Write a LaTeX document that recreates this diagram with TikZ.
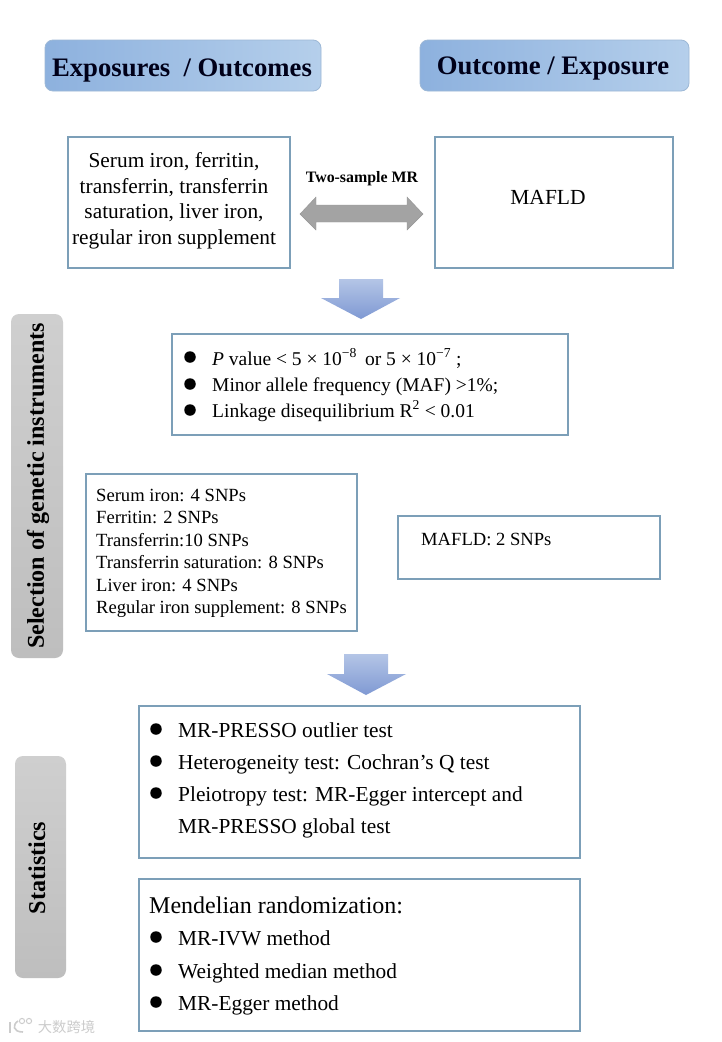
\documentclass[tikz,border=0pt]{standalone}
\usepackage{fontspec}
\setmainfont{Liberation Serif}
\newfontfamily\cjk{Noto Sans CJK SC}
\usetikzlibrary{shapes.arrows}
\definecolor{boxline}{HTML}{7C9FB8}
\definecolor{hdrL}{HTML}{8DB1DE}
\definecolor{hdrR}{HTML}{B5CFEB}
\definecolor{hdrLine}{HTML}{9DB8D6}
\definecolor{arrT}{HTML}{B4C5E6}
\definecolor{arrB}{HTML}{7F99D3}
\definecolor{grayT}{HTML}{CFCFCF}
\definecolor{grayB}{HTML}{BEBEBE}
\tikzset{
  x=1pt,y=-1pt,
  hdr/.style={rounded corners=8pt,left color=hdrL,right color=hdrR,draw=hdrLine,line width=.8pt},
  hdrtxt/.style={font=\fontsize{26.7}{30}\selectfont\bfseries,text=black!90!blue,inner sep=0pt},
  bx/.style={draw=boxline,line width=1.6pt,fill=white},
  side/.style={rounded corners=8pt,top color=grayT,bottom color=grayB,draw=none},
  sidetxt/.style={font=\fontsize{24.1}{26}\selectfont\bfseries,rotate=90,inner sep=0pt},
  txt/.style={inner sep=0pt,anchor=base west},
  crit/.style={font=\fontsize{19.5}{25.5}\selectfont},
  big/.style={font=\fontsize{21.35}{25.5}\selectfont},
  mid/.style={font=\fontsize{18.6}{22}\selectfont},
  dotn/.style={circle,fill=black,inner sep=0pt,minimum size=11.5pt},
  downarr/.style={top color=arrT,bottom color=arrB,draw=none},
  wm/.style={draw=gray!40,line width=1.6pt,fill=none},
}
\begin{document}
\begin{tikzpicture}
\useasboundingbox (0,0) rectangle (721,1042);
\fill[white] (0,0) rectangle (721,1042);
% headers
\draw[hdr] (45,40) rectangle (321,91);
\node[hdrtxt] (h1) at (182,70) {Exposures\ \ / Outcomes};
\draw[hdr] (420,40) rectangle (689,91);
\node[hdrtxt] (h2) at (553,68) {Outcome / Exposure};
% top boxes
\draw[bx] (68,137) rectangle (290,268);
\node[big,align=center,inner sep=0pt] (t1) at (174,201) {Serum iron, ferritin,\\transferrin, transferrin\\saturation, liver iron,\\regular iron supplement};
\draw[bx] (435,137) rectangle (673,268);
\node[font=\fontsize{21.5}{24}\selectfont,inner sep=0pt] (t2) at (548,197) {MAFLD};
\node[font=\fontsize{15.9}{18}\selectfont\bfseries,inner sep=0pt] (t3) at (362,179) {Two-sample MR};
\fill[gray!72,draw=gray!82] (300,214) -- (316,197) -- (316,205) -- (407,205) -- (407,197) -- (423,214) -- (407,230) -- (407,222) -- (316,222) -- (316,230) -- cycle;
% arrow 1
\path[downarr] (339,279) -- (383,279) -- (383,298) -- (400,298) -- (361,319) -- (321,298) -- (339,298) -- cycle;
% criteria
\draw[bx] (172,334) rectangle (568,435);
\node[dotn] (d1) at (190,357) {};
\node[dotn] (d2) at (190,384) {};
\node[dotn] (d3) at (190,410) {};
\node[txt,crit] (c1) at (212,365) {\textit{P} value < 5 × 10\textsuperscript{−8}\, or 5 × 10\textsuperscript{−7} ;};
\node[txt,crit] (c2) at (212,391) {Minor allele frequency (MAF) >1\%;};
\node[txt,crit] (c3) at (212,417) {Linkage disequilibrium R\textsuperscript{2} < 0.01};
% SNPs
\draw[bx] (86,474) rectangle (357,631);
\node[txt,mid] (s1) at (96,501) {Serum iron: 4 SNPs};
\node[txt,mid] (s2) at (96,523) {Ferritin: 2 SNPs};
\node[txt,mid] (s3) at (96,546) {Transferrin:10 SNPs};
\node[txt,mid] (s4) at (96,568) {Transferrin saturation: 8 SNPs};
\node[txt,mid] (s5) at (96,591) {Liver iron: 4 SNPs};
\node[txt,mid] (s6) at (96,613) {Regular iron supplement: 8 SNPs};
\draw[bx] (398,516) rectangle (660,579);
\node[txt,mid] (s7) at (421,545) {MAFLD: 2 SNPs};
% arrow 2
\path[downarr] (344,654) -- (388,654) -- (388,674) -- (406,674) -- (366,695) -- (327,674) -- (344,674) -- cycle;
% statistics
\draw[bx] (139,706) rectangle (580,858);
\node[dotn] (e1) at (156,729) {};
\node[dotn] (e2) at (156,761) {};
\node[dotn] (e3) at (156,793) {};
\node[txt,big] (f1) at (178,737) {MR-PRESSO outlier test};
\node[txt,big] (f2) at (178,769) {Heterogeneity test: Cochran’s Q test};
\node[txt,big] (f3) at (178,801) {Pleiotropy test: MR-Egger intercept and};
\node[txt,big] (f4) at (178,833) {MR-PRESSO global test};
\draw[bx] (139,879) rectangle (580,1031);
\node[txt,font=\fontsize{24}{27}\selectfont] (m0) at (149,913) {Mendelian randomization:};
\node[dotn] (g1) at (156,937) {};
\node[dotn] (g2) at (156,970) {};
\node[dotn] (g3) at (156,1002) {};
\node[txt,big] (m1) at (178,945) {MR-IVW method};
\node[txt,big] (m2) at (178,978) {Weighted median method};
\node[txt,big] (m3) at (178,1010) {MR-Egger method};
% side bars
\path[side] (11,314) rectangle (63,658);
\node[sidetxt] (b1) at (38,486) {Selection of genetic instruments};
\path[side] (15,756) rectangle (66,978);
\node[sidetxt] (b2) at (37,868) {Statistics};
% watermark
\node[inner sep=0pt,text=gray!40,font=\cjk\fontsize{14.3}{16}\selectfont] (w) at (66.5,1027) {大数跨境};
\draw[wm] (10,1022) -- (10,1033);
\draw[wm] (18,1021) .. controls (12,1025) and (13,1032) .. (23,1032);
\draw[wm,line width=1pt] (22,1021) circle (2.6);
\draw[wm,line width=1pt] (29,1021) circle (2.6);
\end{tikzpicture}
\end{document}
